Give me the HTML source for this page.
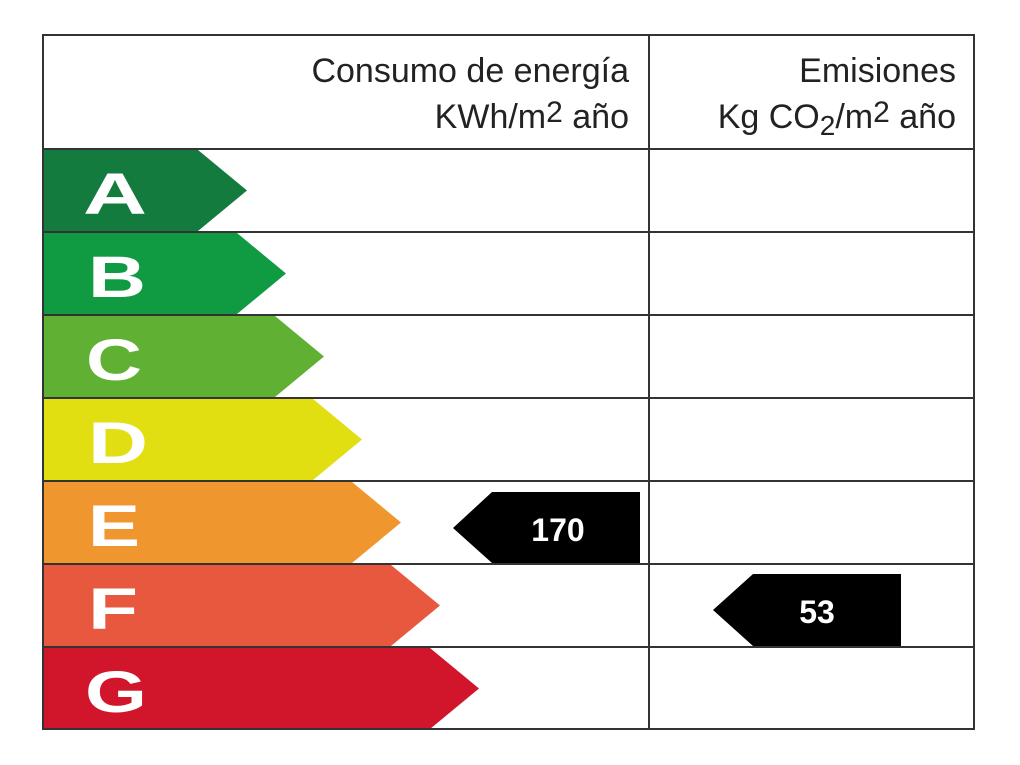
<!DOCTYPE html>
<html><head><meta charset="utf-8"><style>html,body{margin:0;padding:0;background:#fff}svg{display:block}</style></head>
<body>
<svg width="1020" height="765" viewBox="0 0 1020 765" xmlns="http://www.w3.org/2000/svg" font-family="Liberation Sans, sans-serif">
<rect x="0" y="0" width="1020" height="765" fill="#fff"/>
<g>
<polygon points="44,150 198,150 247,190.5 198,231 44,231" fill="#127b3d"/>
<polygon points="44,233 237,233 286,273.5 237,314 44,314" fill="#109b42"/>
<polygon points="44,316 275,316 324,356.5 275,397 44,397" fill="#5fb033"/>
<polygon points="44,399 313,399 362,439.5 313,480 44,480" fill="#e1de12"/>
<polygon points="44,482 352,482 401,522.5 352,563 44,563" fill="#f0962f"/>
<polygon points="44,565 391,565 440,605.5 391,646 44,646" fill="#e8583f"/>
<polygon points="44,648 430,648 479,688.5 430,729 44,729" fill="#d1162b"/>
</g>
<g fill="#fff" font-weight="bold" font-size="58" lengthAdjust="spacingAndGlyphs">
<text x="83" y="214" textLength="64" lengthAdjust="spacingAndGlyphs">A</text>
<text x="88" y="297" textLength="58" lengthAdjust="spacingAndGlyphs">B</text>
<text x="86" y="380" textLength="56" lengthAdjust="spacingAndGlyphs">C</text>
<text x="88" y="463" textLength="60" lengthAdjust="spacingAndGlyphs">D</text>
<text x="88" y="546" textLength="52" lengthAdjust="spacingAndGlyphs">E</text>
<text x="88" y="629" textLength="50" lengthAdjust="spacingAndGlyphs">F</text>
<text x="85" y="712" textLength="62" lengthAdjust="spacingAndGlyphs">G</text>
</g>
<g stroke="#333" stroke-width="2" fill="none">
<rect x="43" y="35" width="931" height="694"/>
<line x1="649" y1="35" x2="649" y2="729"/>
<line x1="43" y1="149" x2="974" y2="149"/>
<line x1="43" y1="232" x2="974" y2="232"/>
<line x1="43" y1="315" x2="974" y2="315"/>
<line x1="43" y1="398" x2="974" y2="398"/>
<line x1="43" y1="481" x2="974" y2="481"/>
<line x1="43" y1="564" x2="974" y2="564"/>
<line x1="43" y1="647" x2="974" y2="647"/>
</g>
<g fill="#222" font-size="34" text-anchor="end">
<text x="629" y="82">Consumo de energía</text>
<text x="629" y="128">KWh/m<tspan dy="-6" font-size="30">2</tspan><tspan dy="6"> año</tspan></text>
<text x="956" y="82">Emisiones</text>
<text x="956" y="128">Kg CO<tspan dy="7" font-size="28">2</tspan><tspan dy="-7">/m</tspan><tspan dy="-6" font-size="30">2</tspan><tspan dy="6"> año</tspan></text>
</g>
<polygon points="453,528 492,492 640,492 640,563 492,563" fill="#000"/>
<polygon points="713,610 753,574 901,574 901,646 753,646" fill="#000"/>
<g fill="#fff" font-weight="bold" font-size="32" text-anchor="middle">
<text x="558" y="541">170</text>
<text x="817" y="623">53</text>
</g>
</svg>
</body></html>
